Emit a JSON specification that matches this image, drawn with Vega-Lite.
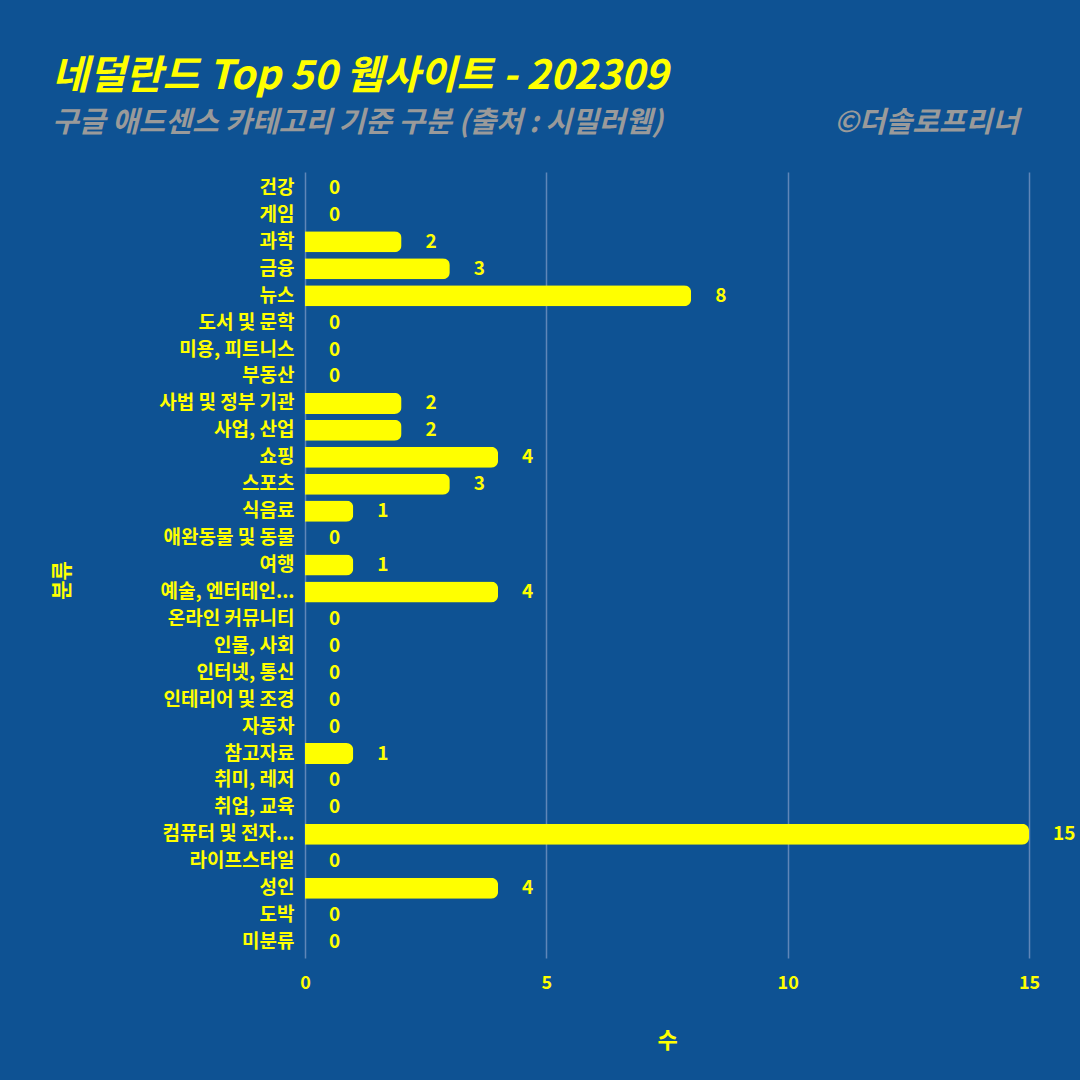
{
  "$schema": "https://vega.github.io/schema/vega-lite/v6.json",
  "autosize": {"type": "none"},
  "width": 724,
  "height": 786,
  "padding": {"left": 305, "top": 172, "right": 51, "bottom": 122},
  "background": "#0E5293",
  "config": {
    "view": {"stroke": null},
    "font": "Noto Sans CJK KR"
  },
  "title": {
    "text": "네덜란드 Top 50 웹사이트 - 202309",
    "subtitle": "구글 애드센스 카테고리 기준 구분 (출처 : 시밀러웹)\u00a0\u00a0\u00a0\u00a0\u00a0\u00a0\u00a0\u00a0\u00a0\u00a0\u00a0\u00a0\u00a0\u00a0\u00a0\u00a0\u00a0\u00a0\u00a0\u00a0\u00a0\u00a0\u00a0\u00a0\u00a0\u00a0©더솔로프리너",
    "anchor": "start",
    "frame": "bounds",
    "font": "Noto Sans CJK KR",
    "fontSize": 40,
    "fontWeight": "bold",
    "fontStyle": "italic",
    "color": "#FFFF00",
    "subtitleFont": "Noto Sans CJK KR",
    "subtitleFontSize": 29,
    "subtitleFontStyle": "italic",
    "subtitleFontWeight": "bold",
    "subtitleColor": "#9A9A9A",
    "subtitlePadding": 12,
    "offset": 34,
    "dx": 1
  },
  "data": {
    "values": [
      {"category": "건강", "count": 0},
      {"category": "게임", "count": 0},
      {"category": "과학", "count": 2},
      {"category": "금융", "count": 3},
      {"category": "뉴스", "count": 8},
      {"category": "도서 및 문학", "count": 0},
      {"category": "미용, 피트니스", "count": 0},
      {"category": "부동산", "count": 0},
      {"category": "사법 및 정부 기관", "count": 2},
      {"category": "사업, 산업", "count": 2},
      {"category": "쇼핑", "count": 4},
      {"category": "스포츠", "count": 3},
      {"category": "식음료", "count": 1},
      {"category": "애완동물 및 동물", "count": 0},
      {"category": "여행", "count": 1},
      {"category": "예술, 엔터테인...", "count": 4},
      {"category": "온라인 커뮤니티", "count": 0},
      {"category": "인물, 사회", "count": 0},
      {"category": "인터넷, 통신", "count": 0},
      {"category": "인테리어 및 조경", "count": 0},
      {"category": "자동차", "count": 0},
      {"category": "참고자료", "count": 1},
      {"category": "취미, 레저", "count": 0},
      {"category": "취업, 교육", "count": 0},
      {"category": "컴퓨터 및 전자...", "count": 15},
      {"category": "라이프스타일", "count": 0},
      {"category": "성인", "count": 4},
      {"category": "도박", "count": 0},
      {"category": "미분류", "count": 0}
    ]
  },
  "encoding": {
    "y": {
      "field": "category",
      "type": "nominal",
      "sort": null,
      "scale": {"paddingInner": 0.22, "paddingOuter": 0.2},
      "axis": {
        "title": "분류",
        "titleColor": "#FFFF00",
        "titleFontSize": 21,
        "titleFontWeight": "bold",
        "titleX": -233,
        "titleY": 408,
        "labelColor": "#FFFF00",
        "labelFontSize": 19,
        "labelFontWeight": "bold",
        "labelPadding": 11,
        "labelLimit": 300,
        "domain": false,
        "ticks": false,
        "grid": false
      }
    },
    "x": {
      "field": "count",
      "type": "quantitative",
      "scale": {"domain": [0, 15], "nice": false},
      "axis": {
        "title": "수",
        "titleColor": "#FFFF00",
        "titleFontSize": 22,
        "titleFontWeight": "bold",
        "titlePadding": 38,
        "values": [0, 5, 10, 15],
        "labelColor": "#FFFF00",
        "labelFontSize": 18,
        "labelFontWeight": "bold",
        "labelPadding": 16,
        "labelFlush": false,
        "domain": false,
        "ticks": false,
        "grid": true,
        "gridColor": "#5F86B8",
        "gridWidth": 1.5
      }
    }
  },
  "layer": [
    {
      "mark": {"type": "bar", "color": "#FFFF00", "cornerRadiusEnd": 7}
    },
    {
      "mark": {"type": "text", "align": "left", "baseline": "middle", "dx": 24, "color": "#FFFF00", "fontSize": 19, "fontWeight": "bold"},
      "encoding": {"text": {"field": "count", "type": "quantitative"}}
    }
  ]
}
